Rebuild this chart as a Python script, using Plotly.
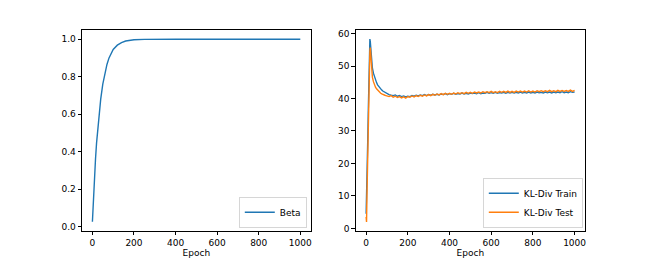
import plotly.graph_objects as go

# ---- Data ----
beta_epochs = [0, 5, 10, 15, 20, 25, 30, 40, 50, 60, 70, 80, 90, 100, 120, 140, 160, 180, 200, 250,
               300, 400, 500, 600, 700, 800, 900, 1000]
beta_values = [0.025, 0.155, 0.27, 0.36, 0.445, 0.515, 0.58, 0.68, 0.76, 0.82, 0.865, 0.90, 0.925,
               0.945, 0.968, 0.982, 0.99, 0.995, 0.997, 0.999, 1.0, 1.0, 1.0, 1.0, 1.0, 1.0, 1.0, 1.0]

kl_epochs = [0, 2, 4, 6, 8, 10, 12, 14, 16, 18, 20, 22, 24, 26, 28, 30, 35, 40, 45, 50, 55, 60, 65,
             70, 75, 80, 85, 90, 95, 100] + list(range(110, 1001, 10))

kl_train = [4.5, 9, 16, 22, 28, 35, 42, 49, 55, 58.3, 57.5, 55.0, 53.0, 51.5, 50.3, 49.4, 47.8, 46.6,
            45.6, 44.9, 44.2, 43.7, 43.3, 42.9, 42.6, 42.3, 42.1, 41.9, 41.7, 41.5,
            41.2, 41.0, 40.9, 41.1, 40.7, 40.9, 40.6, 40.8, 40.5, 40.7,
            40.6, 40.9, 40.7, 41.0, 40.8, 41.1, 40.9, 41.2, 40.9, 41.2,
            41.0, 41.3, 41.1, 41.3, 41.1, 41.4, 41.2, 41.5, 41.2, 41.5,
            41.3, 41.6, 41.3, 41.5, 41.4, 41.7, 41.4, 41.6, 41.4, 41.7,
            41.5, 41.7, 41.5, 41.8, 41.5, 41.7, 41.6, 41.9, 41.6, 41.8,
            41.6, 41.9, 41.6, 41.8, 41.7, 41.9, 41.6, 41.9, 41.7, 41.9,
            41.7, 41.9, 41.7, 42.0, 41.7, 41.9, 41.7, 42.0, 41.7, 41.9,
            41.7, 42.0, 41.8, 41.9, 41.7, 42.0, 41.8, 42.0, 41.7, 42.0,
            41.8, 42.0, 41.8, 42.1, 41.8, 42.0, 41.8, 42.1, 41.9, 42.0]

kl_test = [3.5, 2.0, 10, 18, 27, 35, 38, 45, 51, 54.5, 55.7, 53.0, 50.5, 48.8, 47.5, 46.6, 45.2, 44.2,
           43.5, 43.0, 42.6, 42.2, 41.9, 41.6, 41.4, 41.2, 41.1, 41.0, 40.9, 40.8,
           40.6, 40.9, 40.4, 40.7, 40.3, 40.6, 40.2, 40.5, 40.1, 40.6,
           40.4, 40.8, 40.5, 40.9, 40.6, 41.0, 40.7, 41.1, 40.8, 41.2,
           40.9, 41.3, 41.0, 41.4, 41.1, 41.5, 41.2, 41.6, 41.3, 41.6,
           41.3, 41.7, 41.4, 41.8, 41.5, 41.8, 41.5, 41.9, 41.6, 41.9,
           41.6, 42.0, 41.7, 42.0, 41.7, 42.1, 41.8, 42.1, 41.8, 42.2,
           41.8, 42.1, 41.8, 42.2, 41.9, 42.2, 41.9, 42.3, 41.9, 42.2,
           41.9, 42.3, 42.0, 42.3, 42.0, 42.3, 42.0, 42.4, 42.0, 42.3,
           42.0, 42.4, 42.1, 42.4, 42.1, 42.4, 42.1, 42.5, 42.1, 42.4,
           42.1, 42.5, 42.2, 42.5, 42.2, 42.5, 42.2, 42.6, 42.2, 42.5]

x_ticks = [0, 200, 400, 600, 800, 1000]
beta_ticks = [0.0, 0.2, 0.4, 0.6, 0.8, 1.0]
kl_ticks = [0, 10, 20, 30, 40, 50, 60]

BLUE = "#1f77b4"
ORANGE = "#ff7f0e"
FONT = dict(family="DejaVu Sans", size=9, color="black")

W, H = 650, 260
ML, MR, MT, MB = 40, 40, 30, 29
PW, PH = W - ML - MR, H - MT - MB


def xd(a, b):
    return [(a - ML) / PW, (b - ML) / PW]


fig = go.Figure()
fig.add_trace(go.Scatter(x=beta_epochs, y=beta_values, mode="lines", name="Beta",
                         line=dict(color=BLUE, width=1.4), xaxis="x", yaxis="y", legend="legend"))
fig.add_trace(go.Scatter(x=kl_epochs, y=kl_train, mode="lines", name="KL-Div Train",
                         line=dict(color=BLUE, width=1.4), xaxis="x2", yaxis="y2", legend="legend2"))
fig.add_trace(go.Scatter(x=kl_epochs, y=kl_test, mode="lines", name="KL-Div Test",
                         line=dict(color=ORANGE, width=1.4), xaxis="x2", yaxis="y2", legend="legend2"))

axis_common = dict(showline=True, linecolor="black", linewidth=0.8, mirror=True,
                   ticks="outside", ticklen=3.5, tickwidth=0.8, tickcolor="black",
                   showgrid=False, zeroline=False, tickfont=FONT, automargin=False)

ydom = [0, 1]
fig.update_layout(
    width=W, height=H,
    margin=dict(l=ML, r=MR, t=MT, b=MB, autoexpand=False),
    paper_bgcolor="white", plot_bgcolor="white",
    font=FONT,
    xaxis=dict(domain=xd(82, 310.7), range=[-50, 1050], tickvals=x_ticks,
               title=dict(text="Epoch", font=FONT, standoff=2), anchor="y", **axis_common),
    yaxis=dict(domain=ydom, range=[-0.024, 1.049], tickvals=beta_ticks, tickformat=".1f",
               anchor="x", **axis_common),
    xaxis2=dict(domain=xd(355.7, 585), range=[-50, 1050], tickvals=x_ticks,
                title=dict(text="Epoch", font=FONT, standoff=2), anchor="y2", **axis_common),
    yaxis2=dict(domain=ydom, range=[-0.8, 61.1], tickvals=kl_ticks,
                anchor="x2", **axis_common),
    legend=dict(x=(307 - ML) / PW, y=(H - MB - 228) / PH, xanchor="right", yanchor="bottom",
                bordercolor="#cccccc", borderwidth=0.8, bgcolor="rgba(255,255,255,0.8)",
                font=FONT, tracegroupgap=0, itemwidth=30),
    legend2=dict(x=(583 - ML) / PW, y=(H - MB - 228) / PH, xanchor="right", yanchor="bottom",
                 bordercolor="#cccccc", borderwidth=0.8, bgcolor="rgba(255,255,255,0.8)",
                 font=FONT, tracegroupgap=0, itemwidth=30),
    showlegend=True,
)

fig.write_html("out.html", post_script="document.body.style.margin='0';",
               config={"displayModeBar": False})
